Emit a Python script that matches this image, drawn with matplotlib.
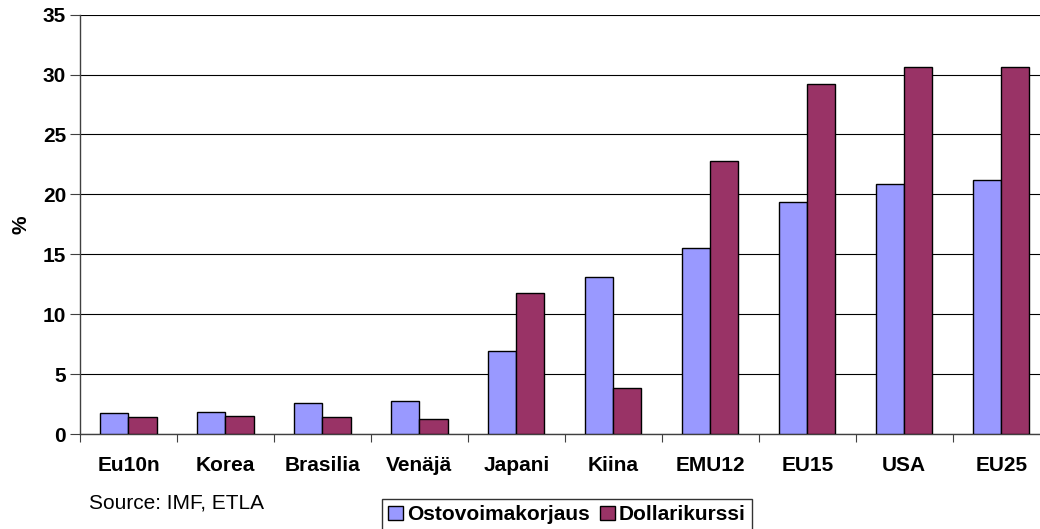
import numpy as np
import matplotlib
matplotlib.use("Agg")
import matplotlib.pyplot as plt

# data
maat = ["Eu10n", "Korea", "Brasilia", "Venäjä", "Japani", "Kiina", "EMU12", "EU15", "USA", "EU25"]
ostovoima = [1.78, 1.80, 2.61, 2.73, 6.95, 13.1, 15.5, 19.4, 20.9, 21.2]
dollari = [1.39, 1.47, 1.45, 1.22, 11.8, 3.87, 22.8, 29.2, 30.6, 30.6]
yticks = [0, 5, 10, 15, 20, 25, 30, 35]

plt.rcParams["font.family"] = ["Liberation Sans", "DejaVu Sans"]
fsize = 15

W, H = 1040, 529
fig = plt.figure(figsize=(W / 100, H / 100), dpi=100)
ax = fig.add_axes([80 / W, 1 - 434 / H, 960 / W, (434 - 14.7) / H])

x = np.arange(len(maat))
bw = 0.29
b1 = ax.bar(x - bw / 2, ostovoima, width=bw, color="#9999FF", edgecolor="black", linewidth=1.0, zorder=3)
b2 = ax.bar(x + bw / 2, dollari, width=bw, color="#993366", edgecolor="black", linewidth=1.0, zorder=3)

ax.set_xlim(-0.5, 9.4)
ax.set_ylim(0, 35)
ax.set_yticks(yticks)
ax.set_yticklabels([str(v) for v in yticks], fontsize=fsize, fontweight="bold")
ax.yaxis.grid(True, color="black", linewidth=0.8, zorder=0)
ax.set_axisbelow(True)

# category boundaries as ticks, names in between
ax.set_xticks(np.arange(len(maat)) - 0.5)
ax.set_xticklabels([])
ax.set_xticks(x, minor=True)
ax.set_xticklabels(maat, minor=True, fontsize=fsize, fontweight="bold")
ax.tick_params(axis="x", which="major", direction="out", length=6, color="#404040")
ax.tick_params(axis="x", which="minor", length=0, pad=16)
ax.tick_params(axis="y", direction="out", length=7, pad=3, color="#404040")

for s in ["top", "right"]:
    ax.spines[s].set_visible(False)
for s in ["left", "bottom"]:
    ax.spines[s].set_color("#404040")
    ax.spines[s].set_linewidth(1.0)

ax.set_ylabel("%", fontsize=fsize, fontweight="bold", labelpad=9)

fig.text(89 / W, 1 - 503 / H, "Source: IMF, ETLA", fontsize=fsize, va="center", ha="left")

leg = fig.legend(handles=[b1, b2], labels=["Ostovoimakorjaus", "Dollarikurssi"],
                 loc="upper left", bbox_to_anchor=(382 / W, 1 - 499 / H), ncol=2,
                 prop={"size": fsize, "weight": "bold"}, frameon=True, fancybox=False,
                 handlelength=0.7, handleheight=0.7, handletextpad=0.2,
                 columnspacing=0.5, borderpad=0.3, borderaxespad=0)
leg.get_frame().set_edgecolor("black")
leg.get_frame().set_linewidth(1.0)

plt.savefig("out.png", dpi=100)
